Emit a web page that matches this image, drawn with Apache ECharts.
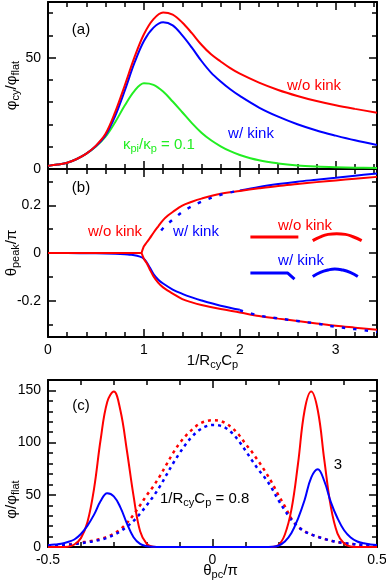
<!DOCTYPE html>
<html><head><meta charset="utf-8">
<script src="https://cdn.jsdelivr.net/npm/echarts@6/dist/echarts.min.js"></script>
<style>html,body{margin:0;padding:0;background:#fff}#c{width:386px;height:582px}</style>
</head><body><div id="c"></div>
<script>
// ---------- Panel (a): phi_cy / phi_flat vs 1/(R_cy C_p)
const xA = [0,0.1,0.2,0.3,0.4,0.5,0.6,0.7,0.8,0.9,1.0,1.1,1.2,1.3,1.4,1.5,1.6,1.7,1.8,1.9,2.0,2.2,2.4,2.6,2.8,3.0,3.2,3.43];
const phiNoKinkA = [1.4,2.0,2.8,4.5,6.9,10.5,15.8,25.5,37.5,50,60.5,67.3,70.3,69.3,65.8,61,55.8,51.5,48.3,45.3,42.8,38.8,35.5,32.8,30.5,28.6,27,25.3];
const phiKinkA   = [1.4,2.0,2.8,4.5,6.9,10.3,15.2,23.8,35.2,47.5,57.5,63.5,65.9,64.5,60,54.5,48.5,43.3,39.3,35.8,32.8,27.6,23.5,20.1,17.3,15,12.9,10.8];
const phiKappaA  = [1.4,2.0,2.8,4.5,6.9,10.1,14.5,21,28.5,35,38.5,37.8,34.8,30.3,25.5,20.6,16.3,12.9,10.2,8,6.3,3.9,2.5,1.6,1.1,0.8,0.6,0.5];

// ---------- Panel (b): theta_peak / pi
const xRedFlat = [0, 0.975];
const thRedFlat = [0, 0];
const xRedBranch = [0.975,0.99,1.0,1.03,1.06,1.1,1.15,1.2,1.25,1.3,1.4,1.5,1.6,1.8,2.0,2.2,2.4,2.6,2.8,3.0,3.2,3.43];
const thRedUpper = [0,0.018,0.028,0.045,0.061,0.085,0.112,0.138,0.157,0.172,0.199,0.215,0.228,0.248,0.26,0.271,0.281,0.289,0.297,0.304,0.311,0.319];
const thRedLower = [0,-0.015,-0.025,-0.043,-0.068,-0.098,-0.125,-0.144,-0.158,-0.17,-0.193,-0.207,-0.218,-0.235,-0.249,-0.264,-0.275,-0.285,-0.295,-0.305,-0.313,-0.322];
const xBlueLowSolid = [0,0.2,0.4,0.6,0.7,0.8,0.85,0.9,0.95,1.0,1.03,1.06,1.1,1.15,1.2,1.3,1.4,1.5,1.6,1.8,2.0];
const thBlueLowSolid = [0,0,-0.001,-0.002,-0.003,-0.005,-0.007,-0.009,-0.014,-0.024,-0.04,-0.06,-0.088,-0.112,-0.128,-0.153,-0.171,-0.186,-0.199,-0.221,-0.238];
const xBlueLowDot = [2.0,2.2,2.4,2.6,2.8,3.0,3.2,3.43];
const thBlueLowDot = [-0.24,-0.262,-0.274,-0.285,-0.296,-0.309,-0.319,-0.331];
const xBlueUpDot = [1.18,1.22,1.27,1.33,1.4,1.5,1.6,1.8,2.0];
const thBlueUpDot = [0.094,0.113,0.13,0.15,0.172,0.196,0.215,0.244,0.262];
const xBlueUpSolid = [2.0,2.2,2.4,2.6,2.8,3.0,3.2,3.43];
const thBlueUpSolid = [0.262,0.277,0.289,0.299,0.307,0.315,0.324,0.333];
// schematic legend glyphs (panel b, data units)
const glyphRedLineX = [2.11, 2.61];
const glyphRedLineY = [0.067, 0.067];
const glyphRedArcX = [2.76,2.84,2.92,3.01,3.10,3.18,3.27];
const glyphRedArcY = [0.052,0.068,0.078,0.081,0.078,0.068,0.052];
const glyphBlueKinkX = [2.11, 2.50, 2.57];
const glyphBlueKinkY = [-0.084, -0.084, -0.109];
const glyphBlueArcX = [2.76,2.84,2.92,2.99,3.07,3.15,3.23];
const glyphBlueArcY = [-0.098,-0.081,-0.071,-0.067,-0.071,-0.081,-0.098];

// ---------- Panel (c): phi / phi_flat vs theta_pc / pi
const thetaC = [-0.5,-0.48,-0.46,-0.44,-0.42,-0.4,-0.38,-0.36,-0.34,-0.32,-0.3,-0.28,-0.26,-0.24,-0.22,-0.2,-0.18,-0.16,-0.14,-0.12,-0.1,-0.08,-0.06,-0.04,-0.02,0,0.02,0.04,0.06,0.08,0.1,0.12,0.14,0.16,0.18,0.2,0.22,0.24,0.26,0.28,0.3,0.32,0.34,0.36,0.38,0.4,0.42,0.44,0.46,0.48,0.5];
const phiRed3  = [0,0,0,0.3,2.4,8.5,24,56,103,139,149,131,92,49,15,3,0.3,0,0,0,0,0,0,0,0,0,0,0,0,0,0,0,0,0,0,1.6,12,36,80,131,149,131,83,38,12.8,3.4,0.5,0,0,0,0];
const phiBlue3 = [1.6,2.3,3.2,4.8,7.2,12.5,20.5,31,44,51.5,48.5,38,22.5,9.4,3,0.8,0.2,0,0,0,0,0,0,0,0,0,0,0,0,0,0,0,0,0,0.2,1.2,5.2,13.3,27.3,45,66.5,74.5,63,42.7,27.5,16,9.1,5.3,3.5,2.5,1.9];
const phiRed08  = [1.0,1.3,1.8,2.4,3.3,4.2,5.2,6.3,7.8,9.8,12.8,17,23,31,40,49.5,58,68,79,90,99.5,107,113,118,120.5,121.5,121,118.5,114,107.5,99,91,82,72.5,62,50,39,27,19.5,15,12,9.8,7.8,6,4.7,3.7,3,2.4,1.9,1.5,1.2];
const phiBlue08 = [0.8,1.1,1.5,2,2.8,3.6,4.6,5.6,7,8.8,11.5,15,19.5,25,32,40,48.5,58,69,80,90,99,106.5,112,115.5,117,116.5,114,109,101.5,92.5,83,74,66,56.5,45,35,26,19.5,15,12,9.8,7.8,6,4.7,3.7,3,2.4,1.9,1.5,1.2];

// ---------- tick values
const ticksAB_xMajor = [0,1,2,3];
const ticksAB_xMinor = [0.2,0.4,0.6,0.8,1.2,1.4,1.6,1.8,2.2,2.4,2.6,2.8,3.2,3.4];
const labelsB_x = [0,1,2,3];
const ticksA_yMajor = [0,50];
const ticksA_yMinor = [10,20,30,40,60,70];
const ticksB_yMajor = [-0.2,0,0.2];
const ticksB_yMinor = [-0.3,-0.1,0.1,0.3];
const ticksC_xMajor = [-0.5,0,0.5];
const ticksC_xMinor = [-0.4,-0.3,-0.2,-0.1,0.1,0.2,0.3,0.4];
const ticksC_yMajor = [0,50,100,150];
const ticksC_yMinor = [10,20,30,40,60,70,80,90,110,120,130,140];

const FONT = '"Liberation Sans", Arial, Helvetica, sans-serif';
const RED = '#ff0000', BLUE = '#0000ff', GREEN = '#22ee22';
const subStyle = (c) => ({ fontSize: 11, fontFamily: FONT, color: c, fill: c, padding: [8, 0, 0, 0] });
const mainStyle = (c, s) => ({ fontSize: s, fontFamily: FONT, color: c, fill: c });

function axes(dim, grid, min, max, majors, minors, labels, nameOpt) {
  const positions = dim === 'x' ? ['bottom', 'top'] : ['left', 'right'];
  const out = [];
  positions.forEach((p, k) => {
    [true, false].forEach((major) => {
      const a = {
        type: 'value', gridIndex: grid, min: min, max: max, position: p,
        axisLine: { show: major, onZero: false, lineStyle: { color: '#000', width: 2 } },
        axisTick: { show: true, inside: true, length: major ? 8 : 5,
                    customValues: major ? majors : minors,
                    lineStyle: { color: '#000', width: 1.5 } },
        axisLabel: { show: false },
        splitLine: { show: false }
      };
      if (k === 0 && major && labels) {
        a.axisLabel = { show: true, customValues: labels, color: '#000', fontSize: 14,
                        fontFamily: FONT, margin: dim === 'x' ? 6 : 7 };
      }
      if (k === 0 && major && nameOpt) Object.assign(a, { nameMoveOverlap: false }, nameOpt);
      out.push(a);
    });
  });
  return out;
}

const nameTS = (extra) => Object.assign({
  color: '#000', fontSize: 15, fontFamily: FONT,
  rich: { s: subStyle('#000'), m: mainStyle('#000', 15) }
}, extra || {});

const xAxes = [].concat(
  axes('x', 0, 0, 3.43, ticksAB_xMajor, ticksAB_xMinor, null, null),
  axes('x', 1, 0, 3.43, ticksAB_xMajor, ticksAB_xMinor, labelsB_x,
       { name: '1/R{s|cy}C{s|p}', nameLocation: 'middle', nameGap: 14, nameTextStyle: nameTS() }),
  axes('x', 2, -0.5, 0.5, ticksC_xMajor, ticksC_xMinor, ticksC_xMajor,
       { name: 'θ{s|pc}/π', nameLocation: 'middle', nameGap: 14, nameTextStyle: nameTS({ padding: [0, 0, 0, 16] }) })
);
const yAxes = [].concat(
  axes('y', 0, 0, 75, ticksA_yMajor, ticksA_yMinor, ticksA_yMajor,
       { name: 'φ{s|cy}/φ{s|flat}', nameLocation: 'middle', nameGap: 27, nameTextStyle: nameTS() }),
  axes('y', 1, -0.352, 0.352, ticksB_yMajor, ticksB_yMinor, ticksB_yMajor,
       { name: 'θ{s|peak}/π', nameLocation: 'middle', nameGap: 27, nameTextStyle: nameTS() }),
  axes('y', 2, 0, 160, ticksC_yMajor, ticksC_yMinor, ticksC_yMajor,
       { name: 'φ/φ{s|flat}', nameLocation: 'middle', nameGap: 27, nameTextStyle: nameTS({ padding: [0, 72, 0, 0] }) })
);

const zip = (xs, ys) => xs.map((x, i) => [x, ys[i]]);
function line(grid, xs, ys, color, opts) {
  opts = opts || {};
  return {
    type: 'line', xAxisIndex: grid * 4, yAxisIndex: grid * 4,
    data: zip(xs, ys), showSymbol: false, symbol: 'none',
    smooth: opts.smooth === undefined ? 0.35 : opts.smooth,
    silent: true, animation: false, z: opts.z || 2,
    lineStyle: { color: color, width: opts.width || 2, type: opts.type || 'solid', cap: 'butt' },
    itemStyle: { color: color }
  };
}

const series = [
  line(0, xA, phiKappaA, GREEN),
  line(0, xA, phiKinkA, BLUE),
  line(0, xA, phiNoKinkA, RED),

  line(1, xBlueLowSolid, thBlueLowSolid, BLUE),
  line(1, xBlueUpSolid, thBlueUpSolid, BLUE),
  line(1, xRedFlat, thRedFlat, RED, { smooth: false }),
  line(1, xRedBranch, thRedUpper, RED),
  line(1, xRedBranch, thRedLower, RED),
  line(1, xBlueUpDot, thBlueUpDot, BLUE, { type: [3.5, 8], width: 2.5, z: 3 }),
  line(1, xBlueLowDot, thBlueLowDot, BLUE, { type: [3.5, 8], width: 2.5, z: 3 }),
  line(1, glyphRedLineX, glyphRedLineY, RED, { smooth: false, width: 3 }),
  line(1, glyphRedArcX, glyphRedArcY, RED, { smooth: 0.5, width: 3 }),
  line(1, glyphBlueKinkX, glyphBlueKinkY, BLUE, { smooth: false, width: 3 }),
  line(1, glyphBlueArcX, glyphBlueArcY, BLUE, { smooth: 0.5, width: 3 }),

  line(2, thetaC, phiRed08, RED, { type: [3, 4], width: 2.5 }),
  line(2, thetaC, phiBlue08, BLUE, { type: [3, 4], width: 2.5 }),
  line(2, thetaC, phiRed3, RED, { smooth: 0.4 }),
  line(2, thetaC, phiBlue3, BLUE, { smooth: 0.4 })
];

function txt(x, y, text, color, align) {
  return {
    type: 'text', x: x, y: y, silent: true, z: 10,
    style: {
      text: text, fill: color, font: '15px ' + FONT,
      align: align || 'center', verticalAlign: 'middle',
      textAlign: align || 'center', textVerticalAlign: 'middle',
      rich: { s: subStyle(color), m: mainStyle(color, 15) }
    }
  };
}

const graphics = [
  txt(81, 30, '(a)', '#000'),
  txt(314, 86, 'w/o kink', RED),
  txt(251, 134, 'w/ kink', BLUE),
  txt(123, 145, '{m|κ}{s|pi}{m|/κ}{s|p}{m| = 0.1}', GREEN, 'left'),
  txt(81, 188, '(b)', '#000'),
  txt(115, 232, 'w/o kink', RED),
  txt(196, 232, 'w/ kink', BLUE),
  txt(305, 226, 'w/o kink', RED),
  txt(301, 261, 'w/ kink', BLUE),
  txt(81, 406, '(c)', '#000'),
  txt(338, 465, '3', '#000'),
  txt(160, 499, '{m|1/R}{s|cy}{m|C}{s|p}{m| = 0.8}', '#000', 'left')
];

const chart = echarts.init(document.getElementById('c'), null, { renderer: 'canvas' });
chart.setOption({
  backgroundColor: '#fff',
  animation: false,
  grid: [
    { left: 48, top: 2, width: 329, height: 167, outerBoundsMode: 'none', containLabel: false },
    { left: 48, top: 169, width: 329, height: 168, outerBoundsMode: 'none', containLabel: false },
    { left: 48, top: 380, width: 329, height: 167, outerBoundsMode: 'none', containLabel: false }
  ],
  xAxis: xAxes,
  yAxis: yAxes,
  series: series,
  graphic: graphics
});
</script></body></html>
